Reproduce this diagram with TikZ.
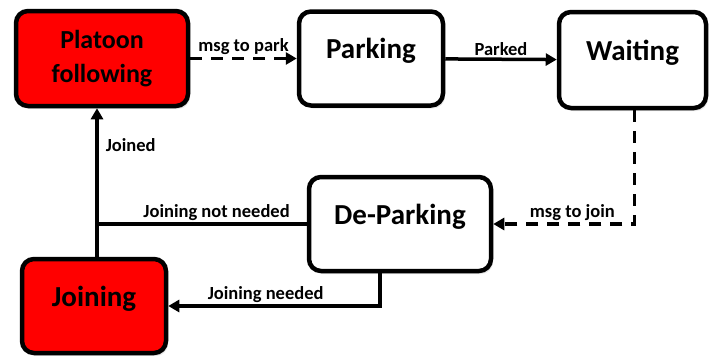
\documentclass[tikz,border=0pt]{standalone}
\usepackage{fontspec}
\setmainfont{Carlito}
\usetikzlibrary{arrows.meta,positioning,calc,shadows}
\tikzset{edge/.style = {
    line width=3.5pt,
    -{Triangle[length=11pt,width=12pt]},
  }
}

\begin{document}
\begin{tikzpicture}[x=1pt, y=-1pt]
          % vertices
          \tikzstyle{state} = [rectangle, draw, line width=4.5pt, rounded corners=12pt, inner sep=0pt, fill=white, text height=19pt, text depth=19pt, font=\bfseries\fontsize{29}{32}\selectfont, drop shadow={shadow xshift=2pt, shadow yshift=-3pt, opacity=0.18}]
          \tikzstyle{active} = [state, fill=red]
          \tikzstyle{edgelabel} = [font=\bfseries\fontsize{18.5}{20}\selectfont, inner sep=2pt]
          \tikzstyle{dashededge} = [edge, dash pattern=on 12pt off 9pt]

          \useasboundingbox (0,0) rectangle (710,356);

          \node[active, minimum width=172pt, minimum height=95pt, align=center, text height=, text depth=, font=\bfseries\fontsize{26}{34}\selectfont] (platoon) at (102,58.5) {Platoon\\following};
          \node[state, minimum width=144pt, minimum height=94pt] (parking) at (371,58.5) {Parking};
          \node[state, minimum width=147pt, minimum height=96pt] (waiting) at (632.5,60) {Waiting};
          \node[state, minimum width=182pt, minimum height=94pt] (deparking) at (400,224) {De-Parking};
          \node[active, minimum width=144pt, minimum height=94pt] (joining) at (94,306) {Joining};

          \coordinate (jtop) at ([xshift=3pt]joining.north);

          % edges
          \draw[dashededge] (platoon) -- node[edgelabel, above] {msg to park} (parking);
          \draw[edge] (parking) -- node[edgelabel, above] {Parked} (waiting);
          \draw[dashededge] ([xshift=2pt]waiting.south) |- node[edgelabel, above, pos=0.72] {msg to join} (deparking.east);
          \draw[edge] ([xshift=-20pt]deparking.south) |- node[edgelabel, above, pos=0.77] {Joining needed} (joining.east);
          \draw[line width=3.5pt] (deparking.west) -- node[edgelabel, above, pos=0.43] {Joining not needed} (deparking.west -| jtop);
          \draw[edge] (jtop) -- node[edgelabel, right, pos=0.75, xshift=5pt] {Joined} (jtop |- platoon.south);
\end{tikzpicture}
\end{document}
